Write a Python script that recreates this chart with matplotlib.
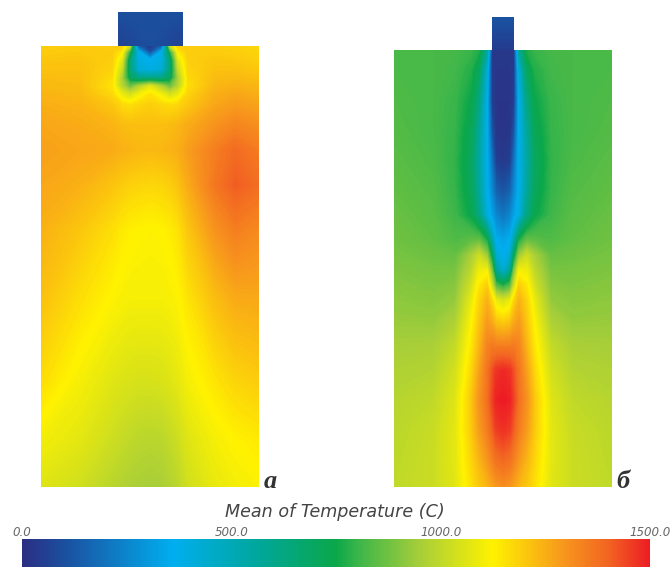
import numpy as np
import matplotlib
matplotlib.use('Agg')
import matplotlib.pyplot as plt
from matplotlib.colors import LinearSegmentedColormap, Normalize
from matplotlib.cm import ScalarMappable

# colour scale of the picture
cmap_temps = [0, 100, 360, 560, 750, 800, 950, 1125, 1300, 1400, 1500]
cmap_cols = ['#2b2e83', '#1b4f9f', '#00aeef', '#00a79d', '#0aa74a', '#39b54a',
             '#a6ce39', '#fff200', '#f7941d', '#f26522', '#ed1c24']
bar_ticks = [0, 500, 1000, 1500]
bar_labels = ['0.0', '500.0', '1000.0', '1500.0']

# panel a, temperature read on a coarse grid (image pixels)
xs_a = [41, 80, 112, 122, 130, 138, 150, 162, 170, 178, 188, 215, 235, 259]
ys_a = [46, 52, 60, 70, 78, 86, 94, 105, 125, 150, 185, 230, 300, 380, 440, 487]
temp_a = [
    [1190, 1195, 1195, 1185, 1000, 150, 30, 150, 1000, 1185, 1195, 1190, 1185, 1175],
    [1195, 1200, 1195, 1130, 760, 380, 90, 380, 760, 1130, 1195, 1195, 1190, 1180],
    [1205, 1210, 1190, 1060, 640, 400, 360, 400, 640, 1060, 1190, 1205, 1200, 1190],
    [1215, 1215, 1180, 1000, 640, 430, 390, 430, 640, 1000, 1180, 1215, 1215, 1205],
    [1225, 1220, 1165, 950, 700, 620, 610, 620, 700, 950, 1170, 1225, 1230, 1220],
    [1230, 1225, 1150, 980, 860, 950, 1060, 950, 860, 980, 1160, 1235, 1245, 1235],
    [1240, 1230, 1170, 1080, 1030, 1090, 1150, 1090, 1030, 1080, 1180, 1250, 1265, 1250],
    [1250, 1240, 1205, 1170, 1160, 1175, 1190, 1175, 1165, 1175, 1205, 1265, 1285, 1270],
    [1265, 1255, 1240, 1225, 1220, 1220, 1220, 1220, 1225, 1235, 1255, 1300, 1330, 1310],
    [1275, 1265, 1255, 1245, 1240, 1235, 1230, 1235, 1240, 1250, 1280, 1345, 1385, 1350],
    [1265, 1245, 1210, 1195, 1185, 1180, 1175, 1180, 1190, 1210, 1255, 1360, 1410, 1380],
    [1245, 1205, 1160, 1140, 1130, 1125, 1120, 1125, 1135, 1155, 1205, 1300, 1345, 1320],
    [1215, 1160, 1120, 1110, 1105, 1105, 1105, 1105, 1110, 1120, 1150, 1220, 1255, 1260],
    [1165, 1105, 1065, 1055, 1050, 1045, 1045, 1050, 1060, 1075, 1105, 1150, 1180, 1195],
    [1100, 1070, 1025, 1010, 1000, 990, 985, 990, 1005, 1025, 1060, 1105, 1125, 1140],
    [1060, 1030, 985, 970, 960, 955, 950, 955, 970, 990, 1030, 1080, 1100, 1115],
]
# block above panel a
xs_block = [118, 135, 150, 165, 183]
ys_block = [12, 30, 46]
temp_block = [
    [100, 100, 100, 100, 100],
    [75, 90, 100, 90, 75],
    [65, 80, 100, 80, 65],
]

# panel b, half profile from the axis outwards (the picture is symmetric)
centre_b = 503
dx_b = [0, 7, 11, 16, 24, 32, 48, 70, 109]
ys_b = [50, 70, 100, 130, 160, 190, 215, 240, 255, 270, 285, 300, 320, 345, 370, 400, 430, 460, 487]
half_b = [
    [30, 30, 30, 560, 770, 800, 815, 820, 825],
    [25, 25, 40, 420, 700, 775, 810, 820, 825],
    [20, 20, 50, 370, 620, 745, 800, 820, 830],
    [20, 25, 110, 365, 560, 720, 795, 820, 835],
    [30, 50, 190, 370, 540, 700, 790, 825, 845],
    [110, 150, 250, 370, 560, 710, 795, 835, 855],
    [200, 250, 320, 400, 620, 740, 805, 845, 865],
    [330, 360, 520, 760, 860, 850, 830, 855, 875],
    [360, 430, 700, 930, 1020, 950, 860, 870, 885],
    [420, 570, 880, 1100, 1090, 990, 885, 885, 895],
    [760, 830, 1020, 1190, 1140, 1030, 905, 895, 905],
    [1040, 1080, 1170, 1240, 1175, 1075, 925, 905, 915],
    [1180, 1200, 1250, 1280, 1200, 1110, 960, 925, 930],
    [1340, 1340, 1350, 1330, 1230, 1140, 1005, 955, 950],
    [1480, 1465, 1420, 1360, 1270, 1170, 1035, 975, 965],
    [1500, 1490, 1440, 1370, 1300, 1200, 1060, 1000, 980],
    [1470, 1450, 1400, 1345, 1280, 1195, 1070, 1015, 990],
    [1390, 1370, 1335, 1290, 1235, 1175, 1070, 1020, 995],
    [1310, 1290, 1265, 1235, 1200, 1155, 1065, 1020, 1000],
]
# rod above panel b
xs_rod = [492, 514]
ys_rod = [17, 32, 50]
temp_rod = [[110, 110], [80, 80], [40, 40]]

norm = Normalize(0, 1500)
cmap = LinearSegmentedColormap.from_list(
    'temp', [(t / 1500, c) for t, c in zip(cmap_temps, cmap_cols)], N=512)
levels = np.linspace(0, 1500, 301)

fig = plt.figure(figsize=(6.71, 5.67), dpi=100)
ax = fig.add_axes([0, 0, 1, 1])


def field(x, y, z):
    ax.contourf(x, y, np.array(z), levels=levels, cmap=cmap, norm=norm)


field(xs_a, ys_a, temp_a)
field(xs_block, ys_block, temp_block)

half = np.array(half_b)
dx = np.array(dx_b)
xs_b = np.concatenate([centre_b - dx[:0:-1], centre_b + dx])
field(xs_b, ys_b, np.hstack([half[:, :0:-1], half]))
field(xs_rod, ys_rod, temp_rod)

ax.set_xlim(0, 671)
ax.set_ylim(567, 0)
ax.axis('off')

ax.text(270, 482, 'а', family='Liberation Serif', style='italic', weight='bold',
        fontsize=19, color='#333333', ha='center', va='center')
ax.text(623, 482, 'б', family='Liberation Serif', style='italic', weight='bold',
        fontsize=19, color='#333333', ha='center', va='center')
ax.text(335, 512, 'Mean of Temperature (C)', style='italic', fontsize=12.6,
        color='#444444', ha='center', va='center')

# colour bar along the lower edge
cax = fig.add_axes([22 / 671, 0, 628 / 671, 28 / 567])
cb = fig.colorbar(ScalarMappable(norm=norm, cmap=cmap), cax=cax, orientation='horizontal')
cb.outline.set_visible(False)
cb.set_ticks(bar_ticks)
cb.set_ticklabels(bar_labels, style='italic', fontsize=8.6, color='#666666')
cax.xaxis.set_ticks_position('top')
cax.tick_params(length=0, pad=0)

fig.savefig('out.png', dpi=100)
